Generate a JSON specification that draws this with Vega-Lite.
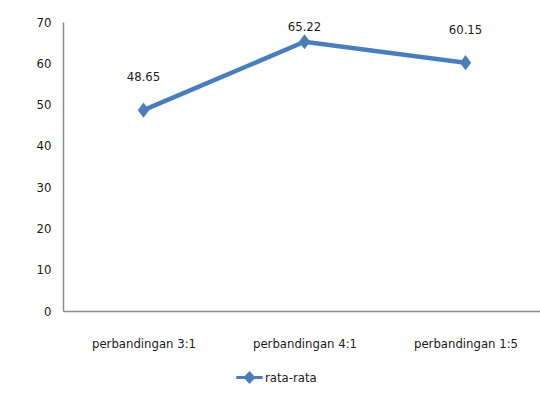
{
  "$schema": "https://vega.github.io/schema/vega-lite/v6.json",
  "autosize": "none",
  "padding": {"left": 63, "top": 22, "right": 0, "bottom": 99},
  "width": 483,
  "height": 289,
  "background": "white",
  "config": {
    "view": {"stroke": null},
    "font": "'DejaVu Sans Condensed', Roboto, sans-serif",
    "axis": {"labelFont": "'DejaVu Sans Condensed', Roboto, sans-serif", "labelFontSize": 13, "labelColor": "#1a1a1a", "grid": false, "ticks": false, "domainColor": "#8c8c8c", "domainWidth": 1.5, "title": null},
    "legend": {"labelFont": "'DejaVu Sans Condensed', Roboto, sans-serif", "labelFontSize": 13, "labelColor": "#1a1a1a"}
  },
  "data": {
    "values": [
      {"kategori": "perbandingan 3:1", "nilai": 48.65, "seri": "rata-rata"},
      {"kategori": "perbandingan 4:1", "nilai": 65.22, "seri": "rata-rata"},
      {"kategori": "perbandingan 1:5", "nilai": 60.15, "seri": "rata-rata"}
    ]
  },
  "encoding": {
    "x": {"field": "kategori", "type": "nominal", "sort": null,
      "scale": {"type": "point", "padding": 0.5},
      "axis": {"labelAngle": 0, "labelPadding": 26}},
    "y": {"field": "nilai", "type": "quantitative",
      "scale": {"domain": [0, 70], "nice": false},
      "axis": {"values": [0, 10, 20, 30, 40, 50, 60, 70], "labelPadding": 12}}
  },
  "layer": [
    {
      "mark": {"type": "line", "strokeWidth": 4.5},
      "encoding": {
        "color": {"field": "seri", "type": "nominal",
          "scale": {"range": ["#4a7ebb"]},
          "legend": {"title": null, "orient": "none", "legendX": 173, "legendY": 342,
            "symbolType": "M -1 -0.11 L -0.35 -0.11 L 0 -0.5 L 0.35 -0.11 L 1 -0.11 L 1 0.11 L 0.35 0.11 L 0 0.5 L -0.35 0.11 L -1 0.11 Z",
            "symbolSize": 700, "symbolStrokeWidth": 0, "symbolFillColor": "#4a7ebb", "symbolOpacity": 1, "labelOffset": 2}}
      }
    },
    {
      "mark": {"type": "point", "shape": "M 0 -1 L 0.75 0 L 0 1 L -0.75 0 Z", "filled": true, "size": 230, "opacity": 1, "color": "#4a7ebb"}
    },
    {
      "transform": [{"filter": "datum.nilai < 65"}],
      "mark": {"type": "text", "dy": -33, "fontSize": 13, "color": "#1a1a1a", "font": "'DejaVu Sans Condensed', Roboto, sans-serif"},
      "encoding": {"text": {"field": "nilai", "type": "quantitative", "format": ".2f"}}
    },
    {
      "transform": [{"filter": "datum.nilai >= 65"}],
      "mark": {"type": "text", "dy": -15, "fontSize": 13, "color": "#1a1a1a", "font": "'DejaVu Sans Condensed', Roboto, sans-serif"},
      "encoding": {"text": {"field": "nilai", "type": "quantitative", "format": ".2f"}}
    }
  ]
}
